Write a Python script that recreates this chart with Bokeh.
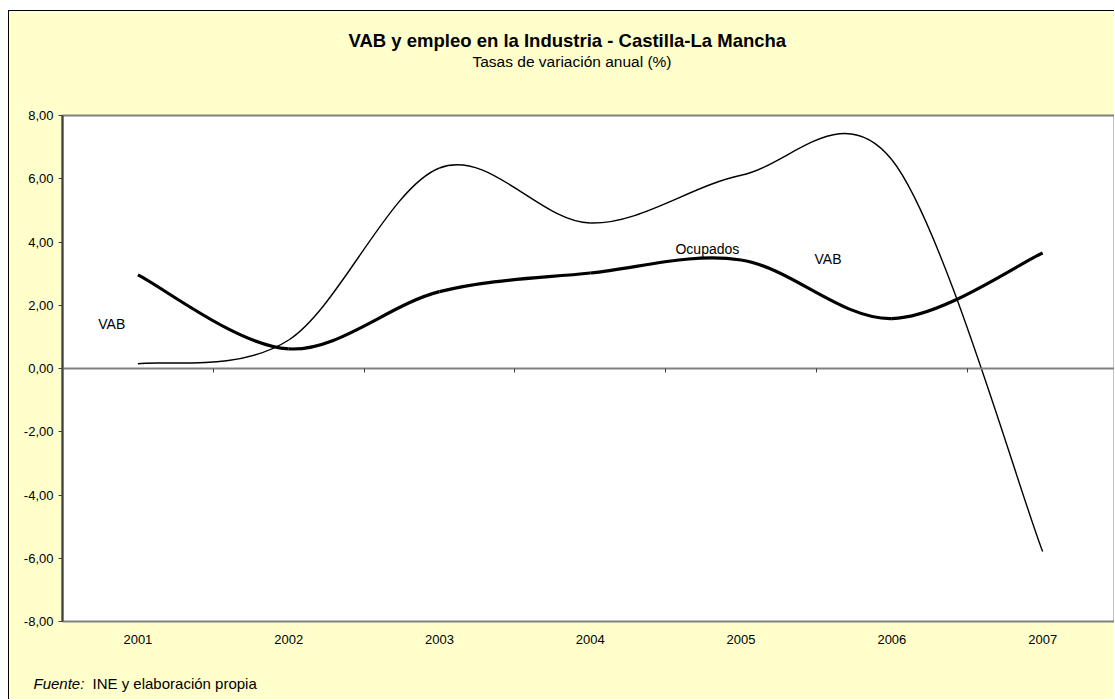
from bokeh.plotting import figure
from bokeh.models import (Range1d, FixedTicker, CustomJSTickFormatter, LinearAxis, Label, Title)
from bokeh.embed import file_html
from bokeh.resources import INLINE

# ---- data ----
years = ["2001", "2002", "2003", "2004", "2005", "2006", "2007"]
vab = [0.15, 0.90, 6.34, 4.60, 6.11, 6.60, -5.79]
ocupados = [2.96, 0.62, 2.43, 3.02, 3.43, 1.58, 3.65]
y_ticks = [-8, -6, -4, -2, 0, 2, 4, 6, 8]

title_text = "VAB y empleo en la Industria - Castilla-La Mancha"
subtitle_text = "Tasas de variación anual (%)"
source_label = "Fuente:"
source_text = "INE y elaboración propia"
# in-chart text labels: text, x position in categories, y value
label_texts = ["VAB", "Ocupados", "VAB"]
label_x = [-0.263, 3.565, 4.487]
label_y = [1.41, 3.77, 3.47]

FONT = "Liberation Sans"
BG = "#FFFFCC"
X_START, X_END = -0.5, 6.483

W, H = 1106, 689

p = figure(width=W, height=H, output_backend="svg", toolbar_location=None,
           x_range=Range1d(X_START, X_END), y_range=Range1d(y_ticks[0], y_ticks[-1]),
           min_border_left=53, min_border_right=0, min_border_top=104,
           min_border_bottom=79)
p.styles = {"border-left": "1px solid black", "border-top": "1px solid black",
            "margin-left": "8px", "margin-top": "10px"}
p.background_fill_color = "white"
p.border_fill_color = BG
p.outline_line_color = "#808080"
p.outline_line_width = 2
p.xgrid.visible = False
p.ygrid.visible = False

# y axis
p.yaxis.ticker = FixedTicker(ticks=y_ticks)
p.yaxis.formatter = CustomJSTickFormatter(code="return tick.toFixed(2).replace('.', ',');")
p.yaxis.axis_line_color = "#404040"
p.yaxis.axis_line_width = 2
p.yaxis.major_tick_line_color = "#404040"
p.yaxis.major_tick_out = 4
p.yaxis.major_tick_in = 0
p.yaxis.minor_tick_line_color = None
p.yaxis.major_label_text_font = FONT
p.yaxis.major_label_text_font_size = "13px"
p.yaxis.major_label_text_color = "black"
p.yaxis.major_label_standoff = 5

# x category labels at bottom
xs = list(range(len(years)))
p.xaxis.ticker = FixedTicker(ticks=xs)
p.xaxis.major_label_overrides = {i: y for i, y in enumerate(years)}
p.xaxis.axis_line_color = None
p.xaxis.major_tick_line_color = None
p.xaxis.minor_tick_line_color = None
p.xaxis.major_tick_out = 0
p.xaxis.major_tick_in = 0
p.xaxis.major_label_text_font = FONT
p.xaxis.major_label_text_font_size = "13px"
p.xaxis.major_label_text_color = "black"
p.xaxis.major_label_standoff = 13

# category axis crossing at y = 0, ticks between categories
bounds = [i + 0.5 for i in range(len(years) - 1)]
zero_axis = LinearAxis(fixed_location=0, ticker=FixedTicker(ticks=bounds),
                       axis_line_color="#808080", axis_line_width=2,
                       major_tick_line_color="#404040", major_tick_out=4, major_tick_in=0,
                       minor_tick_line_color=None,
                       major_label_overrides={b: "" for b in bounds},
                       major_label_text_font_size="1px", major_label_standoff=0)
p.add_layout(zero_axis, "below")


# smoothed lines (Excel-like Bezier smoothing)
def smooth(vals):
    n = len(vals)
    x0, y0, x1, y1, cx0, cy0, cx1, cy1 = [], [], [], [], [], [], [], []
    for i in range(n - 1):
        im1 = max(i - 1, 0)
        ip2 = min(i + 2, n - 1)
        x0.append(xs[i]); y0.append(vals[i])
        x1.append(xs[i + 1]); y1.append(vals[i + 1])
        cx0.append(xs[i] + (xs[i + 1] - xs[im1]) / 6.0)
        cy0.append(vals[i] + (vals[i + 1] - vals[im1]) / 6.0)
        cx1.append(xs[i + 1] - (xs[ip2] - xs[i]) / 6.0)
        cy1.append(vals[i + 1] - (vals[ip2] - vals[i]) / 6.0)
    return dict(x0=x0, y0=y0, x1=x1, y1=y1, cx0=cx0, cy0=cy0, cx1=cx1, cy1=cy1)


p.bezier(**smooth(vab), line_color="black", line_width=1.4)
p.bezier(**smooth(ocupados), line_color="black", line_width=3.2)

for t, lx, ly in zip(label_texts, label_x, label_y):
    p.add_layout(Label(x=lx, y=ly, text=t, text_font=FONT, text_font_size="14px",
                       text_color="black", text_baseline="alphabetic"))

# title block (stacked upward from the plot frame)
p.title.text = ""
p.add_layout(Title(text=" ", text_font_size="1px", standoff=43), "above")
p.add_layout(Title(text=subtitle_text, text_font=FONT, text_font_size="15.5px",
                   text_font_style="normal", text_color="black",
                   align="left", offset=410, standoff=0), "above")
p.add_layout(Title(text=title_text, text_font=FONT, text_font_size="18.5px",
                   text_font_style="bold", text_color="black",
                   align="left", offset=286, standoff=0), "above")

# source note (two zero-height titles sharing one line, below the year labels)
p.add_layout(Title(text=" ", text_font_size="1px", standoff=33), "below")
NOTE_STANDOFF = -18.8
p.add_layout(Title(text=source_label, text_font=FONT, text_font_size="15px",
                   text_font_style="italic", text_color="black",
                   align="left", offset=-29, standoff=NOTE_STANDOFF), "below")
p.add_layout(Title(text=source_text, text_font=FONT, text_font_size="15px",
                   text_font_style="normal", text_color="black",
                   align="left", offset=30, standoff=NOTE_STANDOFF), "below")

open("out.html", "w").write(file_html(p, INLINE))
